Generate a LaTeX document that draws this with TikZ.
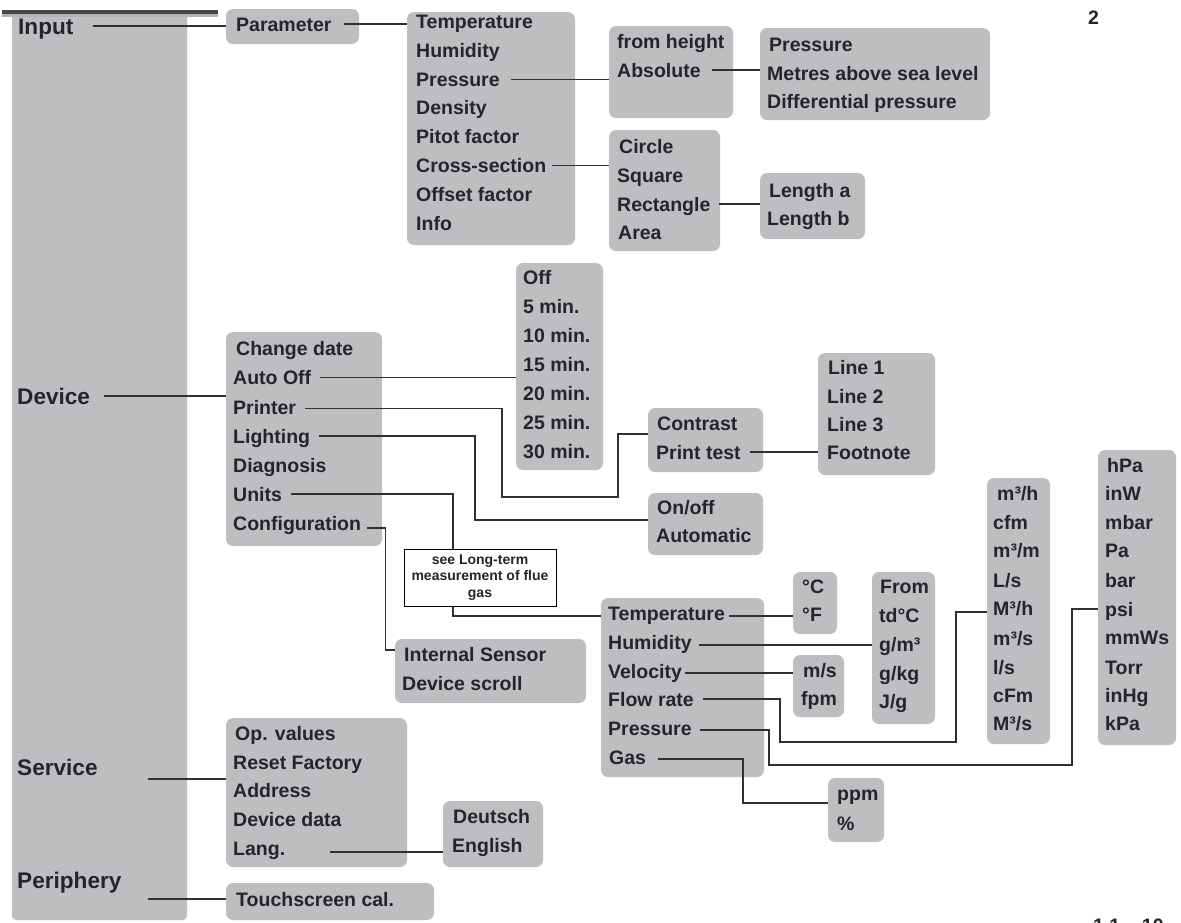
\documentclass[tikz,border=0pt]{standalone}
\usepackage{fontspec}
\setmainfont{Liberation Sans}
\definecolor{boxgray}{HTML}{BDBEC0}
\definecolor{txt}{HTML}{27232E}
\definecolor{ln}{HTML}{303030}
\newcommand\fitem{\fontsize{19.5pt}{29pt}\selectfont\bfseries}
\newcommand\flabel{\fontsize{22.6pt}{27pt}\selectfont\bfseries}
\newcommand\fsmall{\fontsize{14pt}{16.5pt}\selectfont\bfseries}
\newcommand\mkbox[5]{\node[box, minimum width={(#4)-(#2)}, minimum height={(#5)-(#3)}] (#1) at (#2,#3) {};}
\begin{document}
\begin{tikzpicture}[x=1pt,y=-1pt,
  box/.style={fill=boxgray, rounded corners=7pt, inner sep=0pt, outer sep=0pt, anchor=north west},
  item/.style={font=\fitem, text=txt, inner sep=0pt, anchor=west, text height=14pt, text depth=0pt},
  cat/.style={font=\flabel, text=txt, inner sep=0pt, anchor=west, text height=16pt, text depth=0pt},
  conn/.style={draw=ln, line width=1.2pt},
  seebox/.style={draw=black, line width=1pt, fill=white, font=\fsmall, text=txt, align=center, inner sep=0pt, minimum width=152pt, minimum height=57pt},
]
\useasboundingbox (0,0) rectangle (1181,922);
\fill[white] (0,0) rectangle (1181,922);

% sidebar
\fill[boxgray, rounded corners=4pt] (12,12) rectangle (187,920);
\fill[black!30] (2,13) rectangle (218,17);
\fill[black!72] (2,9.5) rectangle (218,14);

% category labels
\node[cat] (lInput) at (18,26) {Input};
\node[cat] (lDevice) at (17,396) {Device};
\node[cat] (lService) at (17,767) {Service};
\node[cat] (lPeriph) at (17,880) {Periphery};

% page number
\node[item] (pg) at (1088,17) {2};

% ---------- Input ----------
\mkbox{P0}{226}{9}{359}{44}
\node[item] (iParam) at (236,24) {Parameter};

\mkbox{P1}{407}{12}{575}{245}
\node[item] (pTemp)  at (416,21.5)  {Temperature};
\node[item] (pHum)   at (416,50.3)  {Humidity};
\node[item] (pPress) at (416,79.1)  {Pressure};
\node[item] (pDens)  at (416,107.9) {Density};
\node[item] (pPitot) at (416,136.7) {Pitot factor};
\node[item] (pCross) at (416,165.5) {Cross-section};
\node[item] (pOff)   at (416,194.3) {Offset factor};
\node[item] (pInfo)  at (416,223.1) {Info};

\mkbox{P2}{609}{26}{733}{118}
\node[item] (pFrom) at (617,41) {from height};
\node[item] (pAbs)  at (617,70) {Absolute};

\mkbox{P3}{760}{28}{990}{120}
\node[item] (pPr2)  at (769,44)  {Pressure};
\node[item] (pMet)  at (767,73)  {Metres above sea level};
\node[item] (pDiff) at (767,101) {Differential pressure};

\mkbox{P4}{609}{130}{720}{251}
\node[item] (pCirc) at (619,146) {Circle};
\node[item] (pSq)   at (617,175) {Square};
\node[item] (pRect) at (617,204) {Rectangle};
\node[item] (pArea) at (618,232) {Area};

\mkbox{P5}{760}{173}{865}{239}
\node[item] (pLa) at (769,190) {Length a};
\node[item] (pLb) at (767,218) {Length b};

% ---------- Device ----------
\mkbox{D0}{226}{332}{382}{546}
\node[item] (dDate)  at (236,348)   {Change date};
\node[item] (dAuto)  at (233,377.5) {Auto Off};
\node[item] (dPrint) at (233,407)   {Printer};
\node[item] (dLight) at (233,436)   {Lighting};
\node[item] (dDiag)  at (233,465)   {Diagnosis};
\node[item] (dUnits) at (233,494)   {Units};
\node[item] (dConf)  at (233,523)   {Configuration};

\mkbox{D1}{516}{263}{603}{470}
\node[item] (t0)  at (523,277) {Off};
\node[item] (t5)  at (523,306) {5 min.};
\node[item] (t10) at (523,335) {10 min.};
\node[item] (t15) at (523,364) {15 min.};
\node[item] (t20) at (523,393) {20 min.};
\node[item] (t25) at (523,422) {25 min.};
\node[item] (t30) at (523,451) {30 min.};

\mkbox{D2}{648}{408}{763}{472}
\node[item] (dContr) at (657,423) {Contrast};
\node[item] (dPtest) at (656,452) {Print test};

\mkbox{D3}{818}{353}{935}{475}
\node[item] (dL1) at (828,367) {Line 1};
\node[item] (dL2) at (827,396) {Line 2};
\node[item] (dL3) at (827,424) {Line 3};
\node[item] (dFn) at (827,452) {Footnote};

\mkbox{D4}{648}{493}{763}{555}
\node[item] (dOn)   at (657,507) {On/off};
\node[item] (dAutm) at (656,535) {Automatic};

\node[seebox] (S) at (480,577.5) {see Long-term\\measurement of flue\\gas};

\mkbox{I}{395}{639}{586}{703}
\node[item] (iSens)   at (404,654) {Internal Sensor};
\node[item] (iScroll) at (402,683) {Device scroll};

\mkbox{U}{601}{598}{764}{777}
\node[item] (uTemp)  at (608,613) {Temperature};
\node[item] (uHum)   at (608,642) {Humidity};
\node[item] (uVel)   at (608,671) {Velocity};
\node[item] (uFlow)  at (608,699) {Flow rate};
\node[item] (uPress) at (608,728) {Pressure};
\node[item] (uGas)   at (609,757) {Gas};

\mkbox{C}{793}{572}{837}{634}
\node[item] (cC) at (802,586) {°C};
\node[item] (cF) at (802,614) {°F};

\mkbox{F}{872}{572}{935}{724}
\node[item] (fFrom) at (880,586) {From};
\node[item] (fTd)   at (879,615) {td°C};
\node[item] (fGm)   at (879,644) {g/m³};
\node[item] (fGkg)  at (879,673) {g/kg};
\node[item] (fJg)   at (879,701) {J/g};

\mkbox{V}{793}{655}{844}{717}
\node[item] (vMs)  at (803,670) {m/s};
\node[item] (vFpm) at (801,698) {fpm};

\mkbox{Q}{987}{478}{1050}{744}
\node[item] (qMh)  at (997,493) {m³/h};
\node[item] (qCfm) at (993,522) {cfm};
\node[item] (qMm)  at (993,550) {m³/m};
\node[item] (qLs)  at (993,580) {L/s};
\node[item] (qMh2) at (993,608) {M³/h};
\node[item] (qMs)  at (993,638) {m³/s};
\node[item] (qls)  at (993,667) {l/s};
\node[item] (qCFm) at (993,695) {cFm};
\node[item] (qMs2) at (993,723) {M³/s};

\mkbox{R}{1098}{450}{1176}{745}
\node[item] (rHpa)  at (1107,465) {hPa};
\node[item] (rInw)  at (1105,493) {inW};
\node[item] (rMbar) at (1105,522) {mbar};
\node[item] (rPa)   at (1105,550) {Pa};
\node[item] (rBar)  at (1105,580) {bar};
\node[item] (rPsi)  at (1105,609) {psi};
\node[item] (rMmws) at (1105,637) {mmWs};
\node[item] (rTorr) at (1105,667) {Torr};
\node[item] (rInhg) at (1105,695) {inHg};
\node[item] (rKpa)  at (1105,723) {kPa};

\mkbox{G}{828}{778}{884}{842}
\node[item] (gPpm) at (837,793) {ppm};
\node[item] (gPct) at (837,823) {\%};

% ---------- Service / Periphery ----------
\mkbox{V0}{226}{718}{407}{867}
\node[item] (vOp)    at (235,733) {Op. values};
\node[item] (vReset) at (233,762) {Reset Factory};
\node[item] (vAddr)  at (233,790) {Address};
\node[item] (vDev)   at (233,819) {Device data};
\node[item] (vLang)  at (233,848) {Lang.};

\mkbox{L}{443}{801}{543}{867}
\node[item] (lDe) at (453,816) {Deutsch};
\node[item] (lEn) at (452,845) {English};

\mkbox{T}{226}{883}{434}{920}
\node[item] (tTouch) at (236,899) {Touchscreen cal.};

% ---------- connectors ----------
\draw[conn] ([xshift=19]lInput.east) -- (lInput -| P0.west);
\draw[conn] ([xshift=14]lDevice.east) -- (lDevice -| D0.west);
\draw[conn] ([xshift=50,yshift=-12]lService.east) -- (V0.west |- 0,779);
\draw[conn] ([xshift=26,yshift=-19]lPeriph.east) -- (T.west |- 0,899);

\draw[conn] ([xshift=12]iParam.east) -- (iParam -| P1.west);
\draw[conn] ([xshift=11]pPress.east) -- (pPress -| P2.west);
\draw[conn] ([xshift=11]pAbs.east) -- (pAbs -| P3.west);
\draw[conn] ([xshift=6]pCross.east) -- (pCross -| P4.west);
\draw[conn] ([xshift=8]pRect.east) -- (pRect -| P5.west);

\draw[conn] ([xshift=9]dAuto.east) -- (dAuto -| D1.west);
\draw[conn] ([xshift=9,yshift=-1.5]dPrint.east) -| (502,497) -- (618,497) |- ([yshift=6]D2.west);
\draw[conn] ([xshift=9]dLight.east) -| (475,520) -- ([yshift=4]D4.west);
\draw[conn] ([xshift=9]dUnits.east) -| ([xshift=-27]S.north);
\draw[conn] ([xshift=6,yshift=-5]dConf.east) -- ++(18,0) |- ([yshift=4]iSens -| I.west);
\draw[conn] ([xshift=9]dPtest.east) -- (dPtest -| D3.west);

\draw[conn] ([xshift=-27]S.south) |- ([yshift=-3]uTemp -| U.west);
\draw[conn] ([xshift=4,yshift=-3]uTemp.east) -- ([yshift=-3]uTemp -| C.west);
\draw[conn] ([xshift=7,yshift=-3]uHum.east) -- ([yshift=-3]uHum -| F.west);
\draw[conn] ([xshift=3,yshift=-2]uVel.east) -- ([yshift=-2]uVel -| V.west);
\draw[conn] ([xshift=9]uFlow.east) -| (780,742) -| (956,612) -- (Q.west |- 0,612);
\draw[conn] ([xshift=8,yshift=-2]uPress.east) -| (769,765) -| (1072,609) -- (rPsi -| R.west);
\draw[conn] ([xshift=12,yshift=-2]uGas.east) -| (743,803) -- (G.west |- 0,803);

\draw[conn] ([xshift=45,yshift=-4]vLang.east) -- (L.west |- 0,852);

% cut-off footer (cut by the page edge, as in the reference)
\begin{scope}
\clip (0,0) rectangle (1181,922);
\node[font=\fitem, text=txt, inner sep=0pt, anchor=base west] (foot) at (1093,932) {1.1 -- 10};
\end{scope}
\end{tikzpicture}
\end{document}
